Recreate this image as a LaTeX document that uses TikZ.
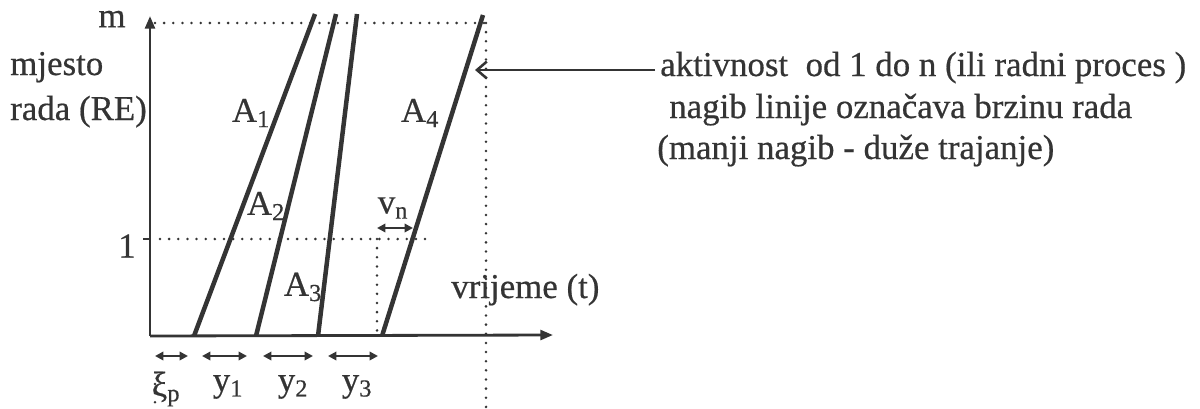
\documentclass[tikz,border=0pt]{standalone}
\usepackage{fontspec}
\setmainfont{Liberation Serif}[FakeBold=0.5]
\usetikzlibrary{arrows.meta}
\definecolor{ink}{HTML}{343434}
\begin{document}
\begin{tikzpicture}[x=0.025cm,y=-0.025cm,
  txt/.style={font=\fontsize{24.8}{28}\selectfont, text=ink, inner sep=0pt},
  axisline/.style={draw=ink, line width=2pt},
  act/.style={draw=ink, line width=3.2pt},
  dots/.style={draw=ink, line width=2pt, line cap=round, dash pattern=on 0pt off 6.5pt},
  axtip/.style={-{Triangle[length=9pt,width=7pt]}},
  dbl/.style={draw=ink, line width=1.8pt, {Triangle[length=6pt,width=6pt]}-{Triangle[length=6pt,width=6pt]}},
  pointer/.style={draw=ink, line width=1.8pt, -{Straight Barb[length=7pt,width=12pt]}}
]
\useasboundingbox[fill=white] (0,0) rectangle (1200,408);
% named coordinates
\coordinate (O) at (150,336);
\coordinate (Ytop) at (150,16);
\coordinate (Xend) at (553,335);
\coordinate (m0) at (155,23);
\coordinate (mR) at (486,23);
\coordinate (bR) at (486,408);
\coordinate (l0) at (160,239);
\coordinate (lR) at (433,239);
\coordinate (vtop) at (377,239);
\coordinate (vbot) at (377,336);
\coordinate (tick) at (143,239);
\coordinate (tickR) at (150,239);
\coordinate (zt) at (155,384);
\coordinate (zb) at (155,408);
\coordinate (a1b) at (194,336); \coordinate (a1t) at (315,14);
\coordinate (a2b) at (256,336); \coordinate (a2t) at (336,14);
\coordinate (a3b) at (318,336); \coordinate (a3t) at (357,14);
\coordinate (a4b) at (382,336); \coordinate (a4t) at (483,15);
\coordinate (pS) at (655,70); \coordinate (pE) at (475,70);

% dotted guides
\draw[dots] (m0) -- (mR);
\draw[dots] (mR) -- (bR);
\draw[dots] (l0) -- (lR);
\draw[dots] (vtop) -- (vbot);
\draw[dots] (zt) -- (zb);

% axes
\draw[axisline, axtip] (O) -- (Ytop);
\draw[axisline, axtip] (O) -- (Xend);
\draw[axisline] (tick) -- (tickR);

% activity lines
\draw[act] (a1b) -- (a1t);
\draw[act] (a2b) -- (a2t);
\draw[act] (a3b) -- (a3t);
\draw[act] (a4b) -- (a4t);

% pointer
\draw[pointer] (pS) -- (pE);

% interval arrows
\draw[dbl] (155,356) -- (188,356);
\draw[dbl] (202,356) -- (247,356);
\draw[dbl] (263,356) -- (313,356);
\draw[dbl] (328,356) -- (378,356);
\draw[dbl] (377,228) -- (413,228);

% labels
\node[txt] (lm) at (112,19) {m};
\node[txt, anchor=base west] (lmj) at (10,75) {mjesto};
\node[txt, anchor=base west] (lrada) at (10,120) {rada (RE)};
\node[txt] (lone) at (127,246) {1};
\node[txt] (lA1) at (251,113) {A\textsubscript{1}};
\node[txt] (lA2) at (266,206) {A\textsubscript{2}};
\node[txt] (lA3) at (303,287) {A\textsubscript{3}};
\node[txt] (lA4) at (420,113) {A\textsubscript{4}};
\node[txt] (lvn) at (393,208) {v\textsubscript{n}};
\node[txt, anchor=base west] (lt) at (451,298) {vrijeme (t)};
\node[txt] (lxi) at (166,389) {ξ\textsubscript{p}};
\node[txt] (ly1) at (228,387) {y\textsubscript{1}};
\node[txt] (ly2) at (293,387) {y\textsubscript{2}};
\node[txt] (ly3) at (357,387) {y\textsubscript{3}};
\node[txt, anchor=base west] (r1) at (660,76) {aktivnost\ \ od 1 do n (ili radni proces )};
\node[txt, anchor=base west] (r2) at (669,118) {nagib linije označava brzinu rada};
\node[txt, anchor=base west] (r3) at (657,159) {(manji nagib - duže trajanje)};
\end{tikzpicture}
\end{document}
